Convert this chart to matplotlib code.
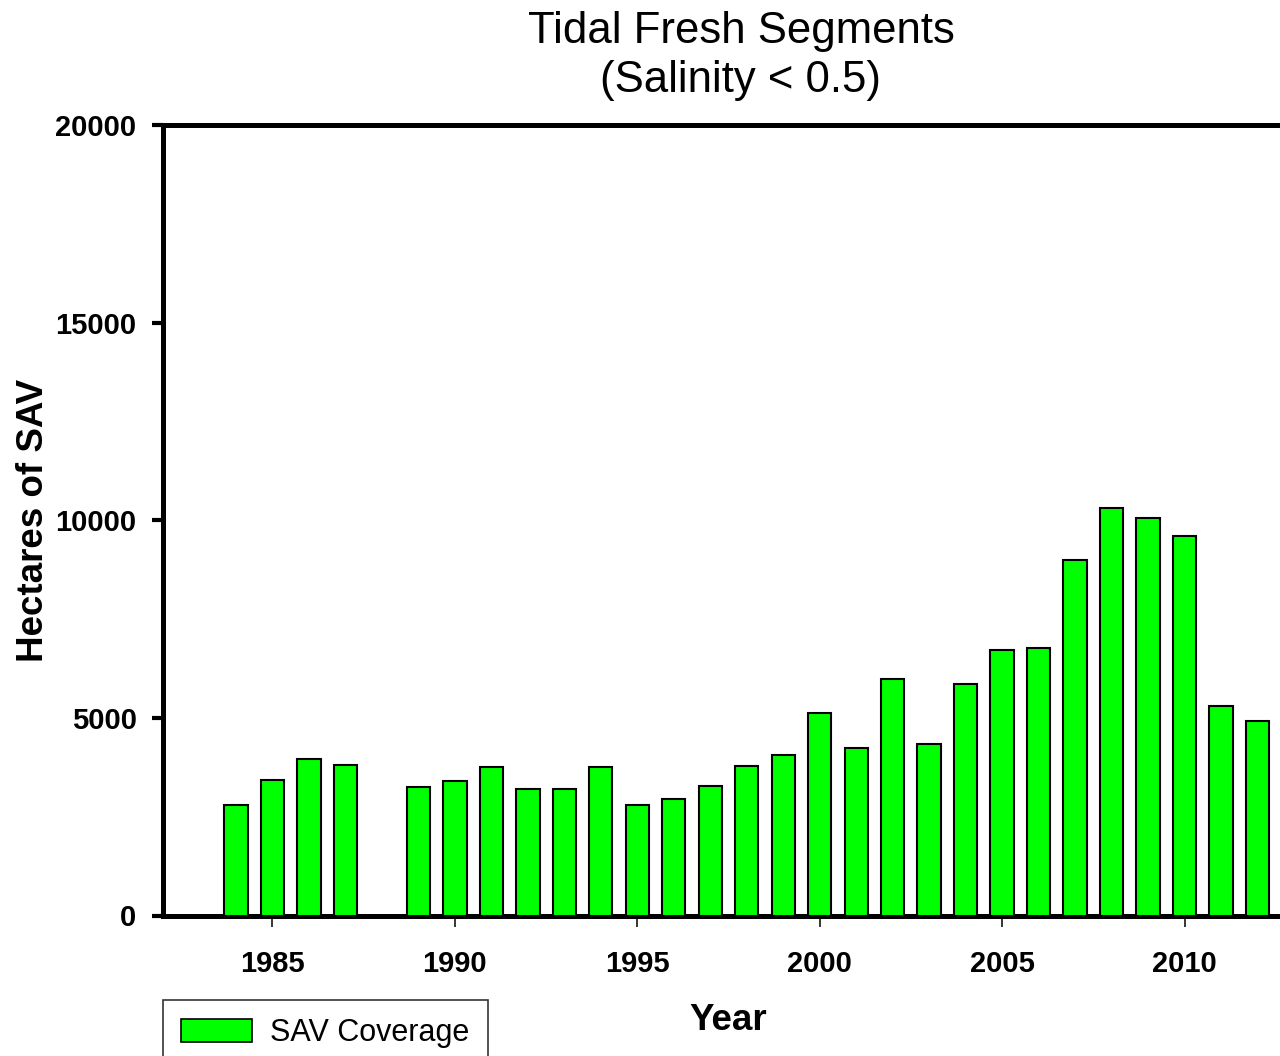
import matplotlib
matplotlib.use("Agg")
import matplotlib.pyplot as plt
from matplotlib.patches import Patch

plt.rcParams['font.family'] = ['Liberation Sans', 'DejaVu Sans']

years = [1984, 1985, 1986, 1987, 1989, 1990, 1991, 1992, 1993, 1994,
         1995, 1996, 1997, 1998, 1999, 2000, 2001, 2002, 2003, 2004,
         2005, 2006, 2007, 2008, 2009, 2010, 2011, 2012]
hectares = [2800, 3430, 3960, 3800, 3245, 3410, 3750, 3200, 3200, 3750,
            2800, 2950, 3280, 3790, 4070, 5130, 4230, 5990, 4340, 5865,
            6720, 6770, 8995, 10320, 10060, 9610, 5300, 4920]
x_ticks = [1985, 1990, 1995, 2000, 2005, 2010]
y_ticks = [0, 5000, 10000, 15000, 20000]

fig = plt.figure(figsize=(12.8, 10.56), dpi=100)
W, H = 1280, 1056
left_px, right_px, top_px, bottom_px = 163, 1294, 125, 915.5
ax = fig.add_axes([left_px / W, 1 - bottom_px / H,
                   (right_px - left_px) / W, (bottom_px - top_px) / H])

ax.bar(years, hectares, width=0.64, color='#00FF00', edgecolor='black',
       linewidth=1.5, zorder=3)

ax.set_xlim(1982, 2013)
ax.set_ylim(0, 20000)
ax.set_xticks(x_ticks)
ax.set_yticks(y_ticks)
ax.set_xticklabels([str(v) for v in x_ticks], fontsize=21, fontweight='bold')
ax.set_yticklabels([str(v) for v in y_ticks], fontsize=21, fontweight='bold')

for side in ['left', 'bottom', 'top']:
    ax.spines[side].set_linewidth(3.6)
ax.spines['right'].set_visible(False)

ax.tick_params(axis='y', direction='out', length=8, width=3, pad=11)
ax.tick_params(axis='x', direction='out', length=8, width=1.1, pad=17)

ax.set_ylabel('Hectares of SAV', fontsize=26.5, fontweight='bold', labelpad=3)
ax.set_xlabel('Year', fontsize=26.5, fontweight='bold', labelpad=18)

fig.text(741 / W, 1 - 56 / H, 'Tidal Fresh Segments\n(Salinity < 0.5)',
         ha='center', va='center', fontsize=31.5, linespacing=1.22)

handles = [Patch(facecolor='#00FF00', edgecolor='black', linewidth=1.2)]
leg = fig.legend(handles, ['SAV Coverage'], loc='upper left',
                 bbox_to_anchor=(163 / W, 1 - 1000 / H), fontsize=22,
                 frameon=True, fancybox=False, borderaxespad=0,
                 handlelength=2.3, handleheight=0.75, borderpad=0.6,
                 handletextpad=0.6)
leg.get_frame().set_edgecolor('black')
leg.get_frame().set_linewidth(1.2)

fig.savefig('out.png', dpi=100)
